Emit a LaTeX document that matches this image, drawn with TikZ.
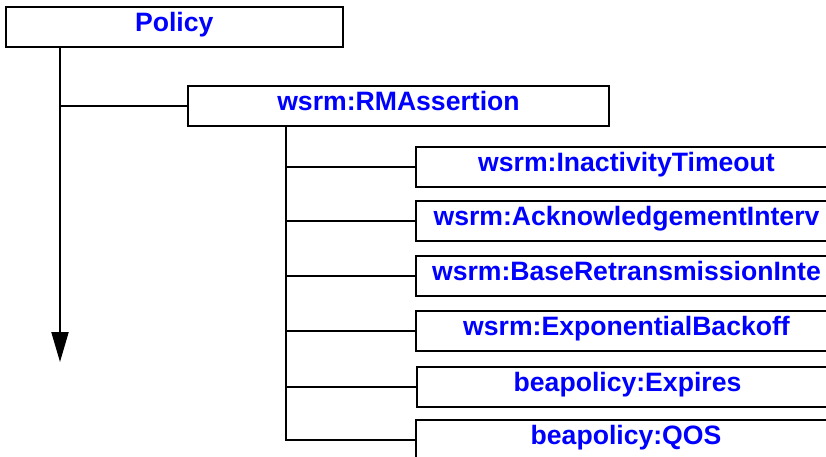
\documentclass[tikz,border=0pt]{standalone}
\usepackage{fontspec}
\setmainfont{Liberation Sans}
\usetikzlibrary{arrows.meta}
\tikzset{
  elem/.style={draw=black, line width=2pt, inner sep=0pt, anchor=north west,
    text height=24.5pt, text depth=15.5pt, text=blue,
    font=\bfseries\fontsize{26.6}{30}\selectfont},
  tree/.style={draw=black, line width=2pt},
}
\begin{document}
\begin{tikzpicture}[x=1pt, y=-1pt]
  \useasboundingbox (0,0) rectangle (826,457);
  \clip (0,0) rectangle (826,457);

  % top-level element and its child
  \node[elem, minimum width=336.5pt] (P) at (5,6.5) {Policy};
  \node[elem, minimum width=421pt] (R) at (187,85.5) {wsrm:RMAssertion};

  % children of the assertion
  \node[elem, minimum width=421pt] (c1) at (415,145.7) {wsrm:InactivityTimeout};
  \node[elem, minimum width=421pt] (c2) at (415,200) {wsrm:AcknowledgementInterv};
  \node[elem, minimum width=421pt] (c3) at (415,254.7) {wsrm:BaseRetransmissionInte};
  \node[elem, minimum width=421pt] (c4) at (415,309.5) {wsrm:ExponentialBackoff};
  \node[elem, minimum width=421pt] (c5) at (416,366) {beapolicy:Expires};
  \node[elem, minimum width=421pt] (c6) at (414.5,419) {beapolicy:QOS};

  % trunk lines
  \coordinate (pt) at (60,0);
  \coordinate (pend) at (60,362);
  \coordinate (rt) at (286,0);

  \draw[tree, -{Triangle[length=30pt,width=17pt]}] (P.south -| pt) -- (pend);
  \draw[tree] (R.west -| pt) -- (R.west);

  \draw[tree] (R.south -| rt) |- (c6.west);
  \foreach \c in {c1,c2,c3,c4,c5}
    \draw[tree] (\c.west -| rt) -- (\c.west);
\end{tikzpicture}
\end{document}
